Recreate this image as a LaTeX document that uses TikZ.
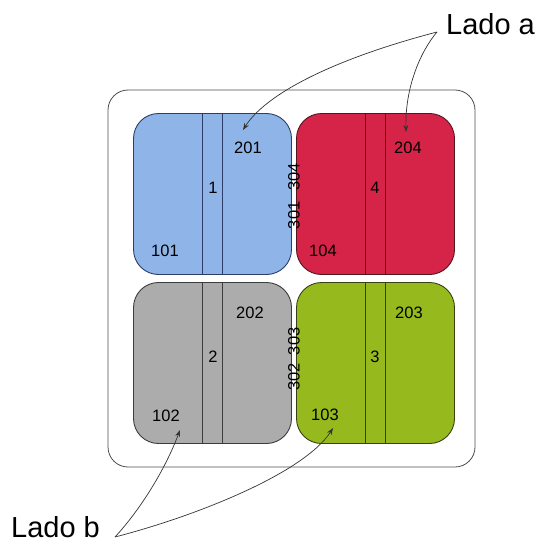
\documentclass[tikz,border=0pt]{standalone}
\usepackage{fontspec}
\setmainfont{Liberation Sans}
\usetikzlibrary{arrows.meta,calc}
\definecolor{cblue}{RGB}{142,180,232}
\definecolor{cblueo}{RGB}{45,60,105}
\definecolor{cred}{RGB}{214,36,72}
\definecolor{credo}{RGB}{85,20,30}
\definecolor{cgray}{RGB}{172,172,172}
\definecolor{cgrayo}{RGB}{60,60,60}
\definecolor{cgreen}{RGB}{150,186,30}
\definecolor{cgreeno}{RGB}{55,65,20}
\begin{document}
\begin{tikzpicture}[x=1pt,y=-1pt,
  quad/.style={draw=#1o,fill=#1,line width=0.9pt,rounded corners=25pt,minimum width=158pt,minimum height=161pt,inner sep=0pt},
  num/.style={font=\fontsize{16.5}{19}\selectfont,inner sep=0pt},
  big/.style={font=\fontsize{29}{34}\selectfont,inner sep=0pt},
  divline/.style={draw=#1,line width=0.9pt},
  pointer/.style={draw=black!80,line width=0.7pt,-{Stealth[length=7pt,width=5pt]}}]
\useasboundingbox (0,0) rectangle (542,543);
\node[draw=black!70,line width=0.8pt,rounded corners=20pt,minimum width=367pt,minimum height=377pt] (outer) at (291.5,278.5) {};
\node[quad=cblue] (b1) at (212.5,194) {};
\node[quad=cred] (b4) at (375.5,194) {};
\node[quad=cgray] (b2) at (212.5,363) {};
\node[quad=cgreen] (b3) at (375.5,363) {};
\foreach \b/\c in {b1/cblueo,b4/credo,b2/cgrayo,b3/cgreeno}{
  \draw[divline=\c] ($(\b.north)+(-10,0)$) -- ($(\b.south)+(-10,0)$);
  \draw[divline=\c] ($(\b.north)+(10,0)$) -- ($(\b.south)+(10,0)$);
}
\node[num] (n1) at (213,188) {1};
\node[num] (n4) at (375,188) {4};
\node[num] (n2) at (213,357) {2};
\node[num] (n3) at (375,357) {3};
\node[num] (n201) at (248,148) {201};
\node[num] (n204) at (408,148) {204};
\node[num] (n202) at (250,313) {202};
\node[num] (n203) at (409,313) {203};
\node[num] (n101) at (165,251) {101};
\node[num] (n104) at (323,251) {104};
\node[num] (n102) at (166,416) {102};
\node[num] (n103) at (325,415) {103};
\node[num,rotate=90] (n301) at (294,196) {301\hspace{11pt}304};
\node[num,rotate=90] (n302) at (294,359) {302\hspace{8pt}303};
\node[big,anchor=west] (la) at (446,24) {Lado a};
\node[big,anchor=west] (lb) at (11,527) {Lado b};
\coordinate (pa) at (437,32);
\coordinate (pb) at (115,537);
\coordinate (t201) at (243,130);
\coordinate (t204) at (406,132);
\coordinate (t102) at (180,430);
\coordinate (t103) at (333,428);
\draw[pointer] (pa) .. controls (330,60) and (265,95) .. (t201);
\draw[pointer] (pa) .. controls (420,52) and (405,88) .. (t204);
\draw[pointer] (pb) .. controls (140,510) and (165,470) .. (t102);
\draw[pointer] (pb) .. controls (200,515) and (305,472) .. (t103);
\end{tikzpicture}
\end{document}
